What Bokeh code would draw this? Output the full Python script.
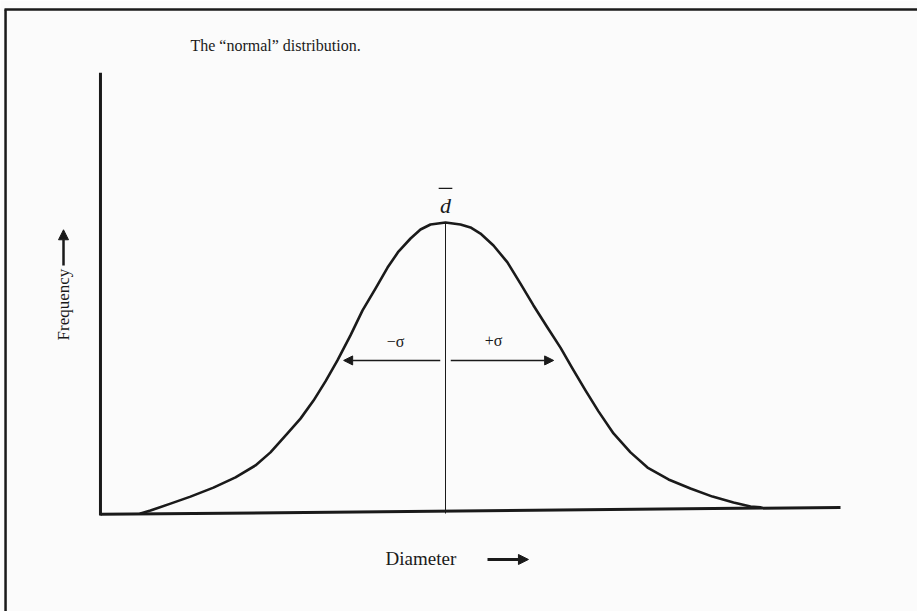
import math
from bokeh.plotting import figure
from bokeh.models import Range1d, Label, Arrow, NormalHead
from bokeh.embed import file_html
from bokeh.resources import INLINE

# Bell curve traced as (diameter in sigma units, relative frequency)
diameter = [-2.905, -2.810, -2.619, -2.429, -2.210, -2.000, -1.810, -1.667,
            -1.505, -1.381, -1.257, -1.143, -1.029, -0.905, -0.790, -0.667,
            -0.552, -0.448, -0.333, -0.238, -0.143, 0.000, 0.143, 0.238,
            0.333, 0.457, 0.590, 0.714, 0.838, 0.971, 1.095, 1.210, 1.333,
            1.457, 1.600, 1.762, 1.924, 2.124, 2.333, 2.543, 2.743, 2.905,
            3.000]
frequency = [0.000, 0.010, 0.034, 0.058, 0.089, 0.124, 0.165, 0.210,
             0.275, 0.326, 0.388, 0.454, 0.526, 0.612, 0.698, 0.773,
             0.845, 0.900, 0.945, 0.976, 0.993, 1.000, 0.993, 0.983,
             0.962, 0.921, 0.863, 0.790, 0.715, 0.639, 0.570, 0.498, 0.423,
             0.351, 0.275, 0.210, 0.158, 0.117, 0.086, 0.058, 0.038, 0.024,
             0.021]

mean_d = 0.0
sigma_left = -0.97
sigma_right = 1.03
sigma_level = 0.526

# axis extents
x_axis_start, x_axis_end = -3.286, 3.762
y_axis_bottom, y_axis_top = -0.007, 1.515

SERIF = "Liberation Serif"
INK = "#1a1a1a"

p = figure(width=917, height=611, output_backend="svg", toolbar_location=None,
           x_range=Range1d(-445 / 105, 472 / 105),
           y_range=Range1d(-98 / 291, 513 / 291),
           min_border=0, outline_line_color=None,
           background_fill_color="#fbfbfb", border_fill_color="#fbfbfb")
p.axis.visible = False
p.grid.visible = False

# page frame (left and top edges)
p.segment(x0=[-4.190, -4.200], y0=[-0.5, 1.732], x1=[-4.190, 4.6], y1=[1.732, 1.732],
          line_color=INK, line_width=2.5)

# hand-drawn axes
p.segment(x0=[x_axis_start], y0=[y_axis_bottom], x1=[x_axis_start], y1=[y_axis_top],
          line_color=INK, line_width=3)
p.segment(x0=[x_axis_start], y0=[-0.003], x1=[x_axis_end], y1=[0.021],
          line_color=INK, line_width=3)

# distribution curve
p.line(diameter, frequency, line_color=INK, line_width=2.6,
       line_join="round", line_cap="round")

# mean line
p.segment(x0=[mean_d], y0=[0.0], x1=[mean_d], y1=[max(frequency)],
          line_color=INK, line_width=1)

# sigma arrows
for x_end in (sigma_left, sigma_right):
    x_start = mean_d - 0.05 if x_end < 0 else mean_d + 0.05
    p.add_layout(Arrow(end=NormalHead(size=9, fill_color=INK, line_color=INK),
                       x_start=x_start, y_start=sigma_level,
                       x_end=x_end, y_end=sigma_level,
                       line_color=INK, line_width=1.5))

p.add_layout(Label(x=-0.476, y=0.592, text="−σ", text_font=SERIF,
                   text_font_size="16px", text_align="center",
                   text_baseline="middle", text_color=INK))
p.add_layout(Label(x=0.457, y=0.595, text="+σ", text_font=SERIF,
                   text_font_size="16px", text_align="center",
                   text_baseline="middle", text_color=INK))

# d-bar label above the peak
p.add_layout(Label(x=mean_d, y=1.058, text="d", text_font=SERIF,
                   text_font_style="italic", text_font_size="22px",
                   text_align="center", text_baseline="middle", text_color=INK))
p.segment(x0=[-0.065], y0=[1.117], x1=[0.065], y1=[1.117], line_color=INK, line_width=1.2)

# title
p.add_layout(Label(x=-2.429, y=1.608, text="The \u201cnormal\u201d distribution.",
                   text_font=SERIF, text_font_size="16px", text_align="left",
                   text_baseline="middle", text_color=INK))

# axis captions with arrows
p.add_layout(Label(x=-0.571, y=-0.155, text="Diameter", text_font=SERIF,
                   text_font_size="19px", text_align="left",
                   text_baseline="middle", text_color=INK))
p.add_layout(Arrow(end=NormalHead(size=10, fill_color=INK, line_color=INK),
                   x_start=0.40, y_start=-0.158, x_end=0.79, y_end=-0.158,
                   line_color=INK, line_width=3))

p.add_layout(Label(x=-3.638, y=0.718, text="Frequency", text_font=SERIF,
                   text_font_size="17px", text_align="center", angle=math.pi / 2,
                   text_baseline="middle", text_color=INK))
p.add_layout(Arrow(end=NormalHead(size=10, fill_color=INK, line_color=INK),
                   x_start=-3.638, y_start=0.852, x_end=-3.638, y_end=0.975,
                   line_color=INK, line_width=2.5))

open("out.html", "w").write(file_html(p, INLINE))
